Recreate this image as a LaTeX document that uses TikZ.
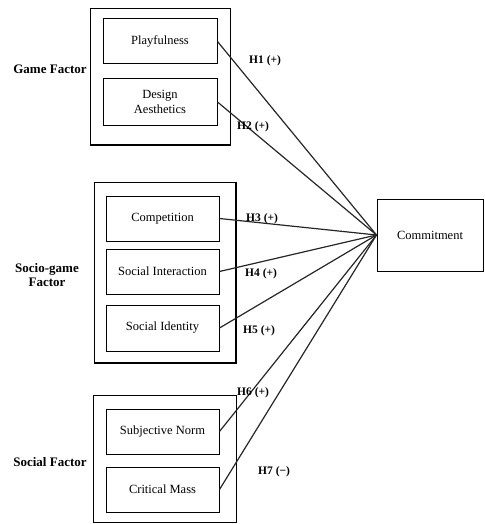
\documentclass[tikz,border=0pt]{standalone}
\usepackage{fontspec}
\setmainfont{Liberation Serif}
\begin{document}
\begin{tikzpicture}[x=1pt,y=-1pt,
  inbox/.style={draw,line width=1pt,inner sep=0pt,align=center,font=\fontsize{12.5}{14.5}\selectfont},
  outbox/.style={draw,line width=0.9pt,inner sep=0pt},
  grp/.style={font=\fontsize{13}{14.5}\selectfont\bfseries,align=center,inner sep=0pt},
  hyp/.style={font=\fontsize{11.5}{13}\selectfont\bfseries,inner sep=0pt},
  conn/.style={line width=1.2pt,black!85}]
\useasboundingbox (0,0) rectangle (484,524);
% outer group boxes
\node[outbox,minimum width=140pt,minimum height=137pt] (gout) at (160,76.5) {};
\node[outbox,minimum width=142pt,minimum height=181pt] (sgout) at (165,272.5) {};
\node[outbox,minimum width=143pt,minimum height=127pt] (sout) at (164.5,458.5) {};
\draw[line width=2pt] (gout.south west) -- (gout.south east);
\draw[line width=2pt] (sgout.north east) -- (sgout.south east) -- (sgout.south west);
\draw[line width=1.4pt] (sout.north east) -- (sout.south east);
% group labels
\node[grp] (gl) at (50,69) {Game Factor};
\node[grp] (sgl) at (47,275) {Socio-game\\Factor};
\node[grp] (sl) at (50,462) {Social Factor};
% inner boxes
\node[inbox,minimum width=114pt,minimum height=45pt] (play) at (160,41.5) {Playfulness};
\node[inbox,minimum width=114pt,minimum height=46pt] (design) at (160,102) {Design\\Aesthetics};
\node[inbox,minimum width=113pt,minimum height=45pt] (comp) at (162.5,218.5) {Competition};
\node[inbox,minimum width=113pt,minimum height=45pt] (inter) at (162.5,271.5) {Social Interaction};
\node[inbox,minimum width=113pt,minimum height=46pt] (ident) at (162.5,328) {Social Identity};
\node[inbox,minimum width=113pt,minimum height=45pt] (norm) at (162.5,431.5) {Subjective Norm};
\node[inbox,minimum width=113pt,minimum height=45pt] (mass) at (162.5,489.5) {Critical Mass};
% outcome
\node[inbox,minimum width=106pt,minimum height=72pt] (com) at (430,235) {Commitment};
% connectors
\foreach \s in {play,design,comp,inter,ident,norm,mass}
  \draw[conn] (\s.east) -- (com.west);
% hypothesis labels
\node[hyp,anchor=west] (h1) at (249,61) {H1 (+)};
\node[hyp,anchor=west] (h2) at (237,127) {H2 (+)};
\node[hyp,anchor=west] (h3) at (246,219) {H3 (+)};
\node[hyp,anchor=west] (h4) at (245,274) {H4 (+)};
\node[hyp,anchor=west] (h5) at (243,331) {H5 (+)};
\node[hyp,anchor=west] (h6) at (237,393) {H6 (+)};
\node[hyp,anchor=west] (h7) at (258,472) {H7 (−)};
\end{tikzpicture}
\end{document}
